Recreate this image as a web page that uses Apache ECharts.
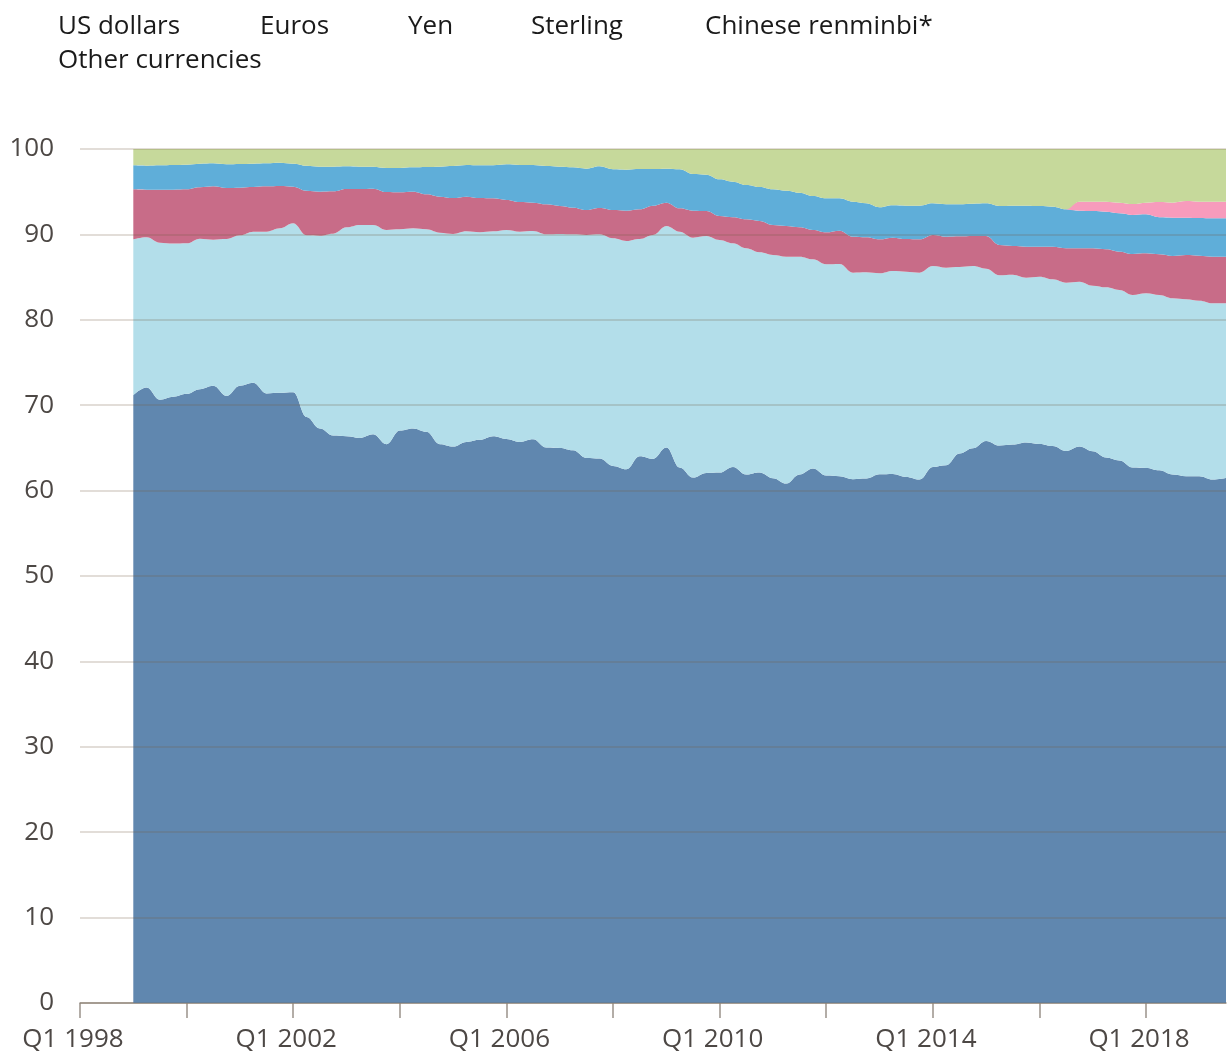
<!DOCTYPE html>
<html>
<head>
<meta charset="utf-8">
<script src="https://cdn.jsdelivr.net/npm/echarts@6/dist/echarts.min.js"></script>
<style>
html,body{margin:0;padding:0;background:#fff;}
#chart{width:1227px;height:1053px;}
</style>
</head>
<body>
<div id="chart"></div>
<script>
const categories = [
'Q1 1998','Q2 1998','Q3 1998','Q4 1998','Q1 1999','Q2 1999','Q3 1999','Q4 1999',
'Q1 2000','Q2 2000','Q3 2000','Q4 2000','Q1 2001','Q2 2001','Q3 2001','Q4 2001',
'Q1 2002','Q2 2002','Q3 2002','Q4 2002','Q1 2003','Q2 2003','Q3 2003','Q4 2003',
'Q1 2004','Q2 2004','Q3 2004','Q4 2004','Q1 2005','Q2 2005','Q3 2005','Q4 2005',
'Q1 2006','Q2 2006','Q3 2006','Q4 2006','Q1 2007','Q2 2007','Q3 2007','Q4 2007',
'Q1 2008','Q2 2008','Q3 2008','Q4 2008','Q1 2009','Q2 2009','Q3 2009','Q4 2009',
'Q1 2010','Q2 2010','Q3 2010','Q4 2010','Q1 2011','Q2 2011','Q3 2011','Q4 2011',
'Q1 2012','Q2 2012','Q3 2012','Q4 2012','Q1 2013','Q2 2013','Q3 2013','Q4 2013',
'Q1 2014','Q2 2014','Q3 2014','Q4 2014','Q1 2015','Q2 2015','Q3 2015','Q4 2015',
'Q1 2016','Q2 2016','Q3 2016','Q4 2016','Q1 2017','Q2 2017','Q3 2017','Q4 2017',
'Q1 2018','Q2 2018','Q3 2018','Q4 2018','Q1 2019','Q2 2019','Q3 2019'
];

// Shares (%) from Q1 1999 onwards
const usDollars = [71.17,72.07,70.63,70.98,71.33,71.88,72.27,71.09,72.27,72.62,
71.37,71.45,71.52,68.63,67.27,66.45,66.37,66.17,66.6,65.43,
67.03,67.27,66.88,65.43,65.16,65.70,65.94,66.37,66.05,65.70,
66.02,65.04,65.0,64.73,63.83,63.75,62.89,62.5,64.02,63.71,
65.04,62.7,61.52,62.07,62.11,62.77,61.88,62.11,61.45,60.82,
61.88,62.58,61.76,61.68,61.33,61.41,61.91,61.95,61.60,61.29,
62.77,62.97,64.34,64.96,65.82,65.27,65.39,65.63,65.47,65.23,
64.65,65.16,64.61,63.87,63.52,62.70,62.66,62.38,61.88,61.68,
61.68,61.29,61.48];

const euros = [18.25,17.59,18.40,17.94,17.62,17.62,17.11,18.37,17.62,17.70,
18.95,19.26,19.78,21.26,22.58,23.64,24.46,24.93,24.50,25.09,
23.56,23.44,23.71,24.77,24.89,24.66,24.30,23.99,24.47,24.62,
24.38,24.97,25.05,25.28,26.10,26.26,26.65,26.73,25.44,26.22,
25.94,27.62,28.10,27.74,27.23,26.18,26.49,25.79,26.14,26.57,
25.51,24.50,24.74,24.85,24.19,24.15,23.53,23.76,24.04,24.23,
23.53,23.13,21.84,21.34,20.17,19.94,19.89,19.30,19.58,19.51,
19.70,19.31,19.39,19.93,19.97,20.20,20.44,20.52,20.63,20.72,
20.56,20.64,20.45];

const yen = [5.86,5.58,6.21,6.32,6.33,6.01,6.25,5.97,5.58,5.23,
5.31,4.96,4.29,5.23,5.15,4.95,4.49,4.22,4.26,4.44,
4.34,4.29,4.10,4.22,4.21,4.06,4.02,3.86,3.51,3.47,
3.32,3.51,3.28,3.12,2.93,3.08,3.32,3.55,3.48,3.43,
2.74,2.73,3.16,2.93,2.81,3.05,3.39,3.67,3.51,3.59,
3.44,3.44,3.74,3.91,4.21,4.10,3.98,3.91,3.82,3.90,
3.63,3.63,3.59,3.51,3.82,3.55,3.36,3.63,3.51,3.82,
4.02,3.90,4.37,4.45,4.49,4.80,4.68,4.77,4.96,5.19,
5.27,5.46,5.46];

const sterling = [2.81,2.81,2.85,2.89,2.89,2.77,2.69,2.77,2.77,2.73,
2.69,2.73,2.69,2.93,2.93,2.89,2.65,2.61,2.57,2.82,
2.85,2.85,3.20,3.51,3.75,3.71,3.83,3.87,4.17,4.34,
4.41,4.49,4.60,4.72,4.84,4.88,4.76,4.80,4.72,4.30,
3.98,4.57,4.29,4.25,4.30,4.17,4.02,3.98,4.18,4.14,
4.06,3.98,3.98,3.78,4.10,3.98,3.75,3.78,3.90,3.94,
3.71,3.79,3.75,3.79,3.83,4.57,4.72,4.80,4.77,4.69,
4.57,4.41,4.37,4.41,4.49,4.57,4.57,4.33,4.49,4.37,
4.41,4.49,4.49];

// From Q3 2016 onwards
const renminbi = [0,1.05,1.09,1.17,1.25,1.29,1.37,1.79,1.76,1.95,1.91,1.95,1.95];

const other = [1.91,1.95,1.91,1.87,1.83,1.72,1.68,1.80,1.76,1.72,
1.68,1.60,1.72,1.95,2.07,2.07,2.03,2.07,2.07,2.22,
2.22,2.15,2.11,2.07,1.99,1.87,1.91,1.91,1.80,1.87,
1.87,1.99,2.07,2.15,2.30,2.03,2.38,2.42,2.34,2.34,
2.30,2.38,2.93,3.01,3.55,3.83,4.22,4.45,4.72,4.88,
5.11,5.50,5.78,5.78,6.17,6.36,6.83,6.60,6.64,6.64,
6.36,6.48,6.48,6.40,6.36,6.67,6.64,6.64,6.67,6.75,
7.06,6.17,6.17,6.17,6.28,6.44,6.28,6.21,6.28,6.09,
6.17,6.17,6.17];

const yTicks = [0,10,20,30,40,50,60,70,80,90,100];

const seriesDefs = [
  {name:'US dollars', data: usDollars, start: 'Q1 1999', color:'#6087af'},
  {name:'Euros', data: euros, start: 'Q1 1999', color:'#b3deea'},
  {name:'Yen', data: yen, start: 'Q1 1999', color:'#c86c88'},
  {name:'Sterling', data: sterling, start: 'Q1 1999', color:'#5faed9'},
  {name:'Chinese renminbi*', data: renminbi, start: 'Q3 2016', color:'#f79bbc'},
  {name:'Other currencies', data: other, start: 'Q1 1999', color:'#c6d99b'}
];

function pad(arr, startLabel){
  const k = categories.indexOf(startLabel);
  const out = [];
  for (let i = 0; i < k; i++) out.push('-');
  return out.concat(arr);
}

const legendPos = [
  {name:'US dollars', left:53, top:14},
  {name:'Euros', left:255, top:14},
  {name:'Yen', left:403, top:14},
  {name:'Sterling', left:526, top:14},
  {name:'Chinese renminbi*', left:700, top:14},
  {name:'Other currencies', left:53, top:48}
];

const FONT = '"Open Sans", "Noto Sans", sans-serif';

const option = {
  animation: false,
  backgroundColor: '#fff',
  legend: legendPos.map(p => ({
    data: [p.name], left: p.left, top: p.top, padding: 0,
    itemWidth: 0, itemHeight: 0, itemGap: 0, selectedMode: false,
    textStyle: {fontFamily: FONT, fontSize: 26, color: '#1a1a1a'}
  })),
  grid: {left: 80, right: 1, top: 149, bottom: 50},
  xAxis: {
    type: 'category',
    data: categories,
    boundaryGap: false,
    axisLine: {show: true, lineStyle: {color: '#9b928b', width: 1.5}},
    axisTick: {show: true, length: 15, interval: (i) => i % 8 === 0, lineStyle: {color: '#9b928b', width: 1.5}},
    axisLabel: {
      interval: (i) => i % 16 === 0,
      margin: 24, fontFamily: FONT, fontSize: 26, color: '#4d4845',
      padding: [0, 14, 0, 0]
    },
    splitLine: {show: false}
  },
  yAxis: {
    type: 'value', min: 0, max: 100, interval: 10, z: 5,
    axisLine: {show: false}, axisTick: {show: false},
    axisLabel: {margin: 26, fontFamily: FONT, fontSize: 26, color: '#4d4845',
      padding: [4, 0, 0, 0],
      formatter: (v) => yTicks.indexOf(v) >= 0 ? String(v) : ''},
    splitLine: {show: true, lineStyle: {color: 'rgba(120,95,70,0.28)', width: 1.5}}
  },
  series: seriesDefs.map(s => ({
    name: s.name, type: 'line', stack: 'total',
    data: pad(s.data, s.start),
    smooth: 0.4, smoothMonotone: 'x',
    symbol: 'none', showSymbol: false,
    lineStyle: {width: 0},
    itemStyle: {color: s.color},
    areaStyle: {color: s.color, opacity: 1},
    emphasis: {disabled: true},
    z: 2
  }))
};

const chart = echarts.init(document.getElementById('chart'), null, {renderer: 'canvas'});
chart.setOption(option);
</script>
</body>
</html>
